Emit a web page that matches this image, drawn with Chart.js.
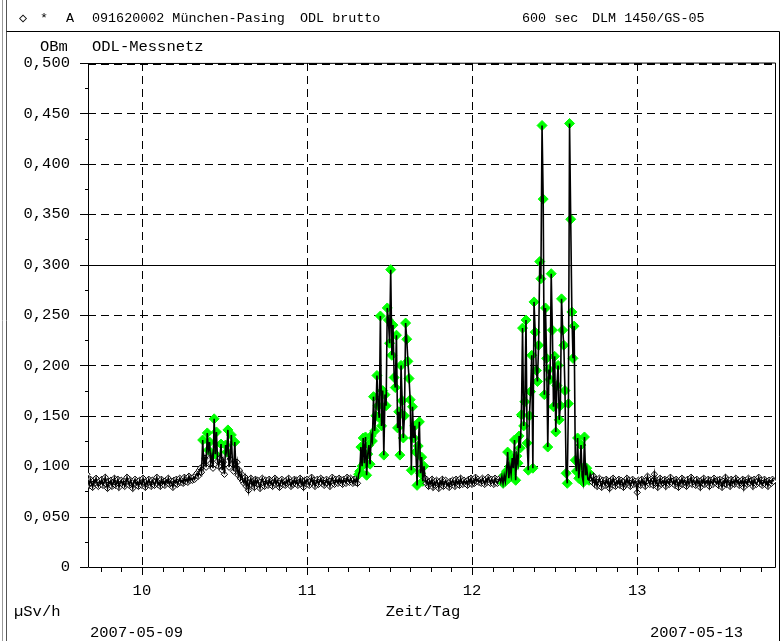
<!DOCTYPE html>
<html><head><meta charset="utf-8">
<script src="https://cdn.jsdelivr.net/npm/chart.js@4"></script>
<style>html,body{margin:0;padding:0;background:#fff}#wrap{width:781px;height:641px;position:relative}</style>
</head><body><div id="wrap"><canvas id="c" width="781" height="641"></canvas></div>
<script>
// ---- data (µSv/h, 600 s values, starting 2007-05-09 16:00 = day 9.6667) ----
const baseA = [
0.092,0.085,0.081,0.087,0.083,0.079,0.086,0.084,0.088,0.082,0.080,0.085,
0.083,0.087,0.081,0.084,0.089,0.082,0.078,0.085,0.083,0.086,0.080,0.084,
0.088,0.081,0.083,0.087,0.079,0.084,0.086,0.082,0.085,0.080,0.083,0.089,
0.084,0.081,0.086,0.083,0.078,0.085,0.087,0.082,0.084,0.080,0.086,0.083,
0.081,0.088,0.084,0.079,0.085,0.082,0.087,0.083,0.080,0.086,0.084,0.081,
0.085,0.089,0.082,0.084,0.080,0.087,0.083,0.085,0.081,0.086,0.084,0.088,
0.082,0.085,0.083,0.079,0.086,0.084,0.087,0.082,0.085,0.088,0.084,0.086,
0.083,0.089,0.085,0.087,0.084,0.090,0.086,0.088];
const peak1 = [
0.086,0.089,0.087,0.091,0.093,0.090,0.096,0.098,0.094,0.126,0.101,0.108,
0.099,0.133,0.116,0.124,0.103,0.110,0.098,0.147,0.112,0.134,0.105,0.100,
0.108,0.122,0.096,0.104,0.092,0.121,0.114,0.136,0.099,0.107,0.131,0.102,
0.095,0.124,0.097,0.104,0.091,0.096,0.088,0.092,0.085];
const baseB = [
0.083,0.089,0.080,0.086,0.076,0.084,0.088,0.081,0.085,0.079,0.087,0.083,
0.086,0.082,0.078,0.085,0.088,0.083,0.080,0.086,0.084,0.081,0.087,0.083,
0.085,0.080,0.084,0.088,0.082,0.086,0.083,0.079,0.085,0.087,0.082,0.084,
0.081,0.086,0.083,0.088,0.084,0.080,0.085,0.082,0.087,0.083,0.086,0.081,
0.084,0.088,0.082,0.085,0.079,0.086,0.083,0.087,0.084,0.081,0.085,0.089,
0.083,0.086,0.080,0.084,0.087,0.082,0.085,0.088,0.083,0.086,0.081,0.084,
0.087,0.083,0.085,0.080,0.086,0.089,0.084,0.082,0.087,0.085,0.083,0.088,
0.084,0.086,0.082,0.087,0.085,0.083,0.089,0.086,0.084,0.088,0.085,0.083,
0.087,0.084];
const peak2 = [
0.088,0.083,0.092,0.095,0.119,0.100,0.128,0.103,0.129,0.091,0.112,0.121,0.102,0.130,0.125,
0.169,0.135,0.150,0.190,0.160,0.148,0.249,0.140,0.175,0.111,0.171,0.160,0.257,0.245,0.222,
0.295,0.210,0.240,0.188,0.178,0.230,0.138,0.154,0.111,0.200,0.165,0.128,0.150,0.242,0.226,
0.204,0.187,0.166,0.096,0.159,0.128,0.140,0.114,0.081,0.120,0.144,0.093,0.109,0.085,0.100];
const baseC = [
0.088,0.083,0.086,0.080,0.085,0.082,0.087,0.079,0.084,0.081,0.086,0.083,
0.078,0.085,0.082,0.087,0.080,0.084,0.086,0.081,0.083,0.079,0.085,0.082,
0.086,0.084,0.080,0.087,0.083,0.085,0.081,0.088,0.084,0.082,0.086,0.083,
0.085,0.081,0.087,0.084,0.088,0.082,0.086,0.083,0.089,0.085,0.087,0.084,
0.086,0.083,0.088,0.085,0.082,0.087,0.084,0.089,0.086,0.083,0.087,0.085,
0.082,0.088,0.085,0.083,0.086];
const peak3 = [
0.088,0.084,0.090,0.083,0.091,0.085,0.095,0.114,0.088,0.100,0.092,0.108,0.098,0.126,0.086,0.110,
0.103,0.130,0.118,0.151,0.237,0.140,0.164,0.245,0.123,0.096,0.150,0.174,0.210,0.098,0.263,0.233,
0.195,0.184,0.220,0.303,0.286,0.438,0.365,0.171,0.257,0.207,0.119,0.196,0.186,0.291,0.235,0.159,
0.209,0.134,0.180,0.200,0.146,0.160,0.266,0.235,0.220,0.175,0.093,0.083,0.162,0.440,0.345,0.253,
0.207,0.239,0.106,0.095,0.128,0.088,0.100,0.121,0.090,0.084,0.129,0.091,0.098,0.087,0.086,0.092,
0.088];
const baseD = [
0.084,0.090,0.082,0.087,0.080,0.085,0.088,0.083,0.079,0.086,0.084,0.081,
0.087,0.083,0.085,0.078,0.086,0.082,0.088,0.084,0.080,0.085,0.083,0.087,
0.081,0.086,0.084,0.079,0.085,0.082,0.088,0.083,0.086,0.080,0.084,0.087,
0.082,0.085,0.083,0.074,0.086,0.084,0.081,0.087,0.083,0.085,0.080,0.086,
0.090,0.084,0.082,0.087,0.085,0.081,0.092,0.083,0.086,0.079,0.084,0.088,
0.082,0.085,0.083,0.087,0.080,0.086,0.084,0.082,0.089,0.085,0.083,0.086,
0.081,0.087,0.084,0.079,0.085,0.083,0.088,0.082,0.086,0.084,0.080,0.087,
0.083,0.085,0.089,0.082,0.086,0.084,0.081,0.087,0.083,0.085,0.079,0.086,
0.084,0.088,0.082,0.085,0.083,0.087,0.080,0.086,0.084,0.082,0.088,0.085,
0.083,0.086,0.081,0.087,0.084,0.079,0.085,0.083,0.089,0.082,0.086,0.084,
0.080,0.087,0.083,0.085,0.082,0.088,0.084,0.086,0.081,0.085,0.083,0.087,
0.079,0.086,0.084,0.082,0.088,0.085,0.083,0.086,0.080,0.087,0.084,0.082,
0.085,0.089,0.083,0.086,0.081,0.084,0.087,0.082,0.085,0.080,0.086,0.084,
0.083,0.087,0.085];
const startDay = 9 + 2/3;          // first sample time (day of month)
const stepSeconds = 600;           // sampling interval
// windows (day from, day to, min value) whose points are flagged green
const greenWindows = [[10.35, 10.59, 0.112], [11.31, 11.71, 0], [12.185, 12.72, 0]];
const xTicks = [10, 11, 12, 13];
const xTickLabels = ['10', '11', '12', '13'];
const yTicks = [0, 0.05, 0.1, 0.15, 0.2, 0.25, 0.3, 0.35, 0.4, 0.45, 0.5];
const yTickLabels = ['0', '0,050', '0,100', '0,150', '0,200', '0,250', '0,300', '0,350', '0,400', '0,450', '0,500'];

const doseRate = [].concat(baseA, peak1, baseB, peak2, baseC, peak3, baseD);
const points = doseRate.map((v, i) => ({x: startDay + i * stepSeconds / 86400, y: v}));
function isGreen(i) {
  const p = points[i]; if (!p) return false;
  return greenWindows.some(w => p.x >= w[0] && p.x <= w[1] && p.y >= w[2]);
}
const GREEN = '#00ff00';
const MONO = '"Liberation Mono", "DejaVu Sans Mono", monospace';

const decor = {
  id: 'decor',
  beforeDatasetsDraw(chart) {
    const {ctx, chartArea: a, scales: {x, y}} = chart;
    ctx.save();
    ctx.strokeStyle = '#000'; ctx.lineWidth = 1;
    ctx.setLineDash([8, 5]);
    yTicks.forEach(v => {
      if (v === 0 || v === 0.3) return;
      const py = Math.round(y.getPixelForValue(v)) + 0.5;
      ctx.beginPath(); ctx.moveTo(a.left, py); ctx.lineTo(a.right, py); ctx.stroke();
    });
    xTicks.forEach(v => {
      const px = Math.round(x.getPixelForValue(v)) + 0.5;
      ctx.beginPath(); ctx.moveTo(px, a.top); ctx.lineTo(px, a.bottom); ctx.stroke();
    });
    ctx.lineWidth = 2;
    const pt = Math.round(y.getPixelForValue(0.5)) + 1;
    ctx.beginPath(); ctx.moveTo(a.left, pt); ctx.lineTo(a.right, pt); ctx.stroke();
    ctx.lineWidth = 1;
    ctx.setLineDash([]);
    let py = Math.round(y.getPixelForValue(0.3)) + 0.5;
    ctx.beginPath(); ctx.moveTo(a.left, py); ctx.lineTo(a.right, py); ctx.stroke();
    // frame
    ctx.beginPath();
    ctx.moveTo(a.left + 0.5, a.top); ctx.lineTo(a.left + 0.5, a.bottom + 0.5);
    ctx.lineTo(a.right - 0.5, a.bottom + 0.5); ctx.lineTo(a.right - 0.5, a.top);
    ctx.lineTo(a.left, a.top + 0.5);
    ctx.stroke();
    // ticks y
    for (let k = 0; k <= 20; k++) {
      const v = k * 0.025;
      const p = Math.round(y.getPixelForValue(v)) + 0.5;
      const len = (k % 2 === 0) ? 8 : 3;
      ctx.beginPath(); ctx.moveTo(a.left - len, p); ctx.lineTo(a.left, p); ctx.stroke();
    }
    // ticks x (3 h minor)
    const first = Math.ceil(x.min * 8), last = Math.floor(x.max * 8);
    for (let k = first; k <= last; k++) {
      const v = k / 8;
      const p = Math.round(x.getPixelForValue(v)) + 0.5;
      const len = (k % 8 === 0) ? 8 : 5;
      ctx.beginPath(); ctx.moveTo(p, a.bottom); ctx.lineTo(p, a.bottom + len); ctx.stroke();
    }
    ctx.restore();
  },
  afterDraw(chart) {
    const {ctx} = chart;
    ctx.save();
    // outer frame
    ctx.strokeStyle = '#9a9a9a'; ctx.lineWidth = 1;
    ctx.beginPath(); ctx.moveTo(2.5, 0); ctx.lineTo(2.5, 641); ctx.stroke();
    ctx.strokeStyle = '#555';
    ctx.beginPath(); ctx.moveTo(6.5, 0); ctx.lineTo(6.5, 641); ctx.stroke();
    ctx.strokeStyle = '#000';
    ctx.beginPath(); ctx.moveTo(6.5, 31.5); ctx.lineTo(779.5, 31.5); ctx.lineTo(779.5, 641); ctx.stroke();
    ctx.fillStyle = '#000'; ctx.textBaseline = 'middle'; ctx.textAlign = 'left';
    ctx.font = '13.4px ' + MONO;
    [['\u25C7', 19], ['*', 40], ['A', 66], ['091620002 M\u00fcnchen-Pasing', 92], ['ODL brutto', 300],
     ['600 sec', 522], ['DLM 1450/GS-05', 592]].forEach(t => ctx.fillText(t[0], t[1], 18));
    ctx.font = '15.5px ' + MONO;
    ctx.fillText('OBm', 40, 47);
    ctx.fillText('ODL-Messnetz', 92, 47);
    ctx.fillText('\u00b5Sv/h', 14, 612);
    ctx.fillText('2007-05-09', 90, 633);
    ctx.fillText('2007-05-13', 650, 633);
    ctx.textAlign = 'center';
    ctx.fillText('Zeit/Tag', 423, 612);
    ctx.restore();
  }
};

new Chart(document.getElementById('c'), {
  type: 'line',
  data: {
    datasets: [
      {data: points, borderColor: '#000', borderWidth: 1.6, pointRadius: 0, tension: 0, fill: false},
      {data: points, showLine: false,
       pointStyle: 'rectRot',
       pointRadius: c => isGreen(c.dataIndex) ? 5 : 3.2,
       pointBackgroundColor: c => isGreen(c.dataIndex) ? GREEN : '#fff',
       pointBorderColor: c => isGreen(c.dataIndex) ? GREEN : '#000',
       pointBorderWidth: 1}
    ]
  },
  options: {
    responsive: false, animation: false, devicePixelRatio: 1,
    layout: {padding: {top: 63, right: 4, left: 0, bottom: 0}},
    plugins: {legend: {display: false}, tooltip: {enabled: false}},
    scales: {
      x: {type: 'linear', min: 9.6734, max: 13.8407,
          border: {display: false}, grid: {display: false, drawTicks: false},
          afterBuildTicks: s => { s.ticks = xTicks.map(v => ({value: v})); },
          afterFit: s => { s.height = 74; },
          ticks: {autoSkip: false, maxRotation: 0, padding: 15, color: '#000',
                  font: {family: MONO, size: 15.5}, callback: (v, i) => xTickLabels[i]}},
      y: {min: 0, max: 0.5,
          border: {display: false}, grid: {display: false, drawTicks: false},
          afterBuildTicks: s => { s.ticks = yTicks.map(v => ({value: v})); },
          afterFit: s => { s.width = 88; },
          ticks: {autoSkip: false, padding: 18, color: '#000',
                  font: {family: MONO, size: 15.5}, callback: (v, i) => yTickLabels[i]}}
    }
  },
  plugins: [decor]
});
</script></body></html>
